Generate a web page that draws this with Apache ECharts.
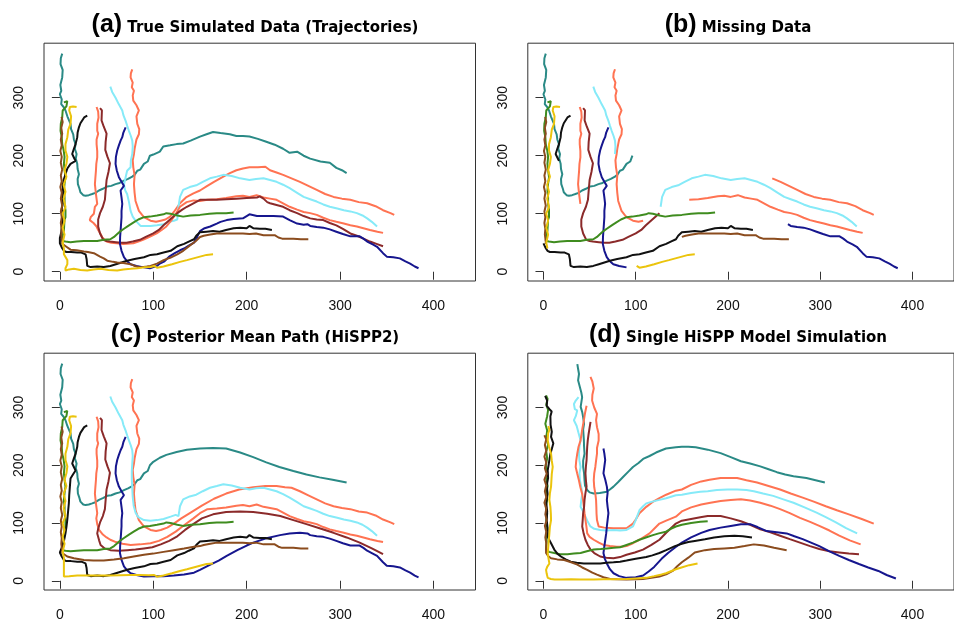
<!DOCTYPE html>
<html><head><meta charset="utf-8">
<script src="https://cdn.jsdelivr.net/npm/echarts@6/dist/echarts.min.js"></script>
<style>html,body{margin:0;padding:0;background:#fff}#c{width:954px;height:622px}</style>
</head><body><div id="c"></div>
<script>
// ---------- tick labels ----------
const xTicks = [0, 100, 200, 300, 400];
const yTicks = [0, 100, 200, 300];
const panelTitles = ['(a)', '(b)', '(c)', '(d)'];
const panelNames = ['True Simulated Data (Trajectories)', 'Missing Data', 'Posterior Mean Path (HiSPP2)', 'Single HiSPP Model Simulation'];

// ---------- true trajectories, split into observed (Obs) and missing (Miss) parts ----------
const tealObs1 = [[2.5,376],[1,368],[0.7,358],[3,348],[2.5,335],[0.5,322],[1.5,312],[0,306],[2,297],[1.4,289],[4,284],[6,278],[8,268],[11.4,255],[12,246],[14.3,237],[15,228],[16.8,220],[16,212],[17.9,203],[17,195],[18.6,186],[19,177],[20.4,168],[19,160],[19.3,151],[21,143],[22,137],[25,132],[27.5,131],[31,132],[34.6,134],[38,136],[41.8,140],[46,143],[50.7,147],[55,148],[59.6,151],[64,153],[68.6,157],[73,160],[77.5,164],[80,167],[82.9,174],[86,176],[90,186],[94,190],[96.4,200]];
const tealMiss1 = [[100,202],[107,207],[110.7,216],[118,218],[125,220],[132,221],[140,226],[150,233],[157,237],[164,241],[172,239],[182,237],[189,234],[196,234],[203,233],[212,229],[221,224],[230,219],[239,212],[246,205],[254,207],[261,200],[268,195],[279,190],[289,188],[296,179],[302,175],[307,170]];

const coral1Obs1 = [[77.5,349],[76,342],[75.7,335],[78,326],[77,318],[79.3,312],[78,304],[78.6,295],[82,287],[84.6,278],[82,268],[82.9,255],[85,246],[84.6,237],[82,228],[81,220],[80,212],[79.3,203],[78,192],[78.6,180],[80,166],[79.3,151],[80,136],[81,122],[84.6,105],[88,98],[90,94],[97,88],[103,86],[108,88]];
const coral1Miss1 = [[113,90],[118,95],[122,103],[128.6,118],[135,128],[143,135],[150,140],[157,147],[165,155],[175,164],[182,170],[189,175],[196,178],[203,180],[212,180],[220,181],[225,175],[232,171],[239,167]];
const coral1Obs2 = [[248,161],[257,155],[266,148],[275,141],[284,134],[293,129],[302,126],[311,124],[320,120],[329,118],[338,113],[346,106],[354,101],[358,98]];

const cyanObs1 = [[54,319],[56,310],[59.6,300],[63,289],[66.8,278],[68,270],[70.4,260],[72,252],[73.9,243],[76,234],[77.5,226],[78,216],[77.5,203]];
const cyanMiss1 = [[76,192],[75.7,180],[72,174],[70.4,163],[68.6,150],[70,140],[72,134],[74,120],[75.7,105],[78,95],[81,88],[86.4,79],[92,79],[97,79],[104,80],[111,82],[117,86],[122,88],[125.7,90]];
const cyanObs2 = [[127,112],[128.6,129],[132,141],[139,146],[146,149],[153,155],[160.7,161],[168,164],[175,167],[184,165],[193,161],[203,158],[210,160],[218,161],[225,158],[232,155],[239,150],[246,144],[254,136],[261,129],[268,125],[275,121],[282,116],[289,112],[297,109],[304,106],[311,104],[318,101],[324,97],[329,92],[334,86],[339.6,78]];

const coral2Obs1 = [[39.3,284],[41,276],[41.4,266],[40,255],[40,243],[41,238],[39.3,228],[39.3,220],[40,208],[40,197],[39,186],[38.6,174],[38,162],[37.5,151],[38.6,134],[40,117]];
const coral2Miss1 = [[37.5,112],[36.4,100],[33,94],[32,89],[36,84],[39.3,78],[41,72],[43.6,65],[45.4,59],[50,52],[55,50],[60.7,49],[68,48],[78.6,49],[84,52],[89,55],[96,60],[103.6,66],[109,72],[114,78],[120,90],[125,102],[128.6,112],[135.7,120],[143,123],[150,122]];
const coral2Obs2 = [[158,124],[168,125],[178,127],[189,130],[196,131],[203,129],[210.7,132],[218,128],[225,126],[232,124],[239,118],[246,112],[254,107],[261,103],[268,101],[275,98],[282,93],[289,89],[296,86],[304,83],[311,80],[318,78],[325,75],[332,72],[340,69],[346,67]];

const maroonObs1 = [[43,282],[45,278],[44.6,261],[47,250],[50,238],[49,224],[48.6,210],[51,198],[53.6,187],[52,172],[50,158],[49,140],[48.2,124],[46,112]];
const maroonObs2 = [[43,101],[41,90],[41,78],[43,66],[46.4,55],[50,53],[53.6,52],[60,51],[66,50],[71.4,50],[78,52],[85.7,55],[92,60],[100,66],[106,72],[111,80],[118,90],[125.7,101]];
const maroonMiss1 = [[131,107],[136,112],[143,118],[150,124],[160,124],[168,124],[178,125],[189,126],[200,127],[211,128],[214,130],[218,126],[222,120],[225,118],[232,115],[239,112],[246,106],[254,101],[261,96],[268,92],[275,90],[282,89],[289,84],[296,80],[303,74],[311,66],[318,62],[325,57],[332,52],[339,48],[346,44]];

const navyObs1 = [[70.4,249],[68,240],[66.8,232],[65,226],[63,217],[61.4,209],[60,198],[59.6,186],[61,174],[63.2,163],[66,155],[68.6,148],[65,140],[66,128],[66.8,117],[66,105],[66,94],[65.5,82],[65,71],[64.5,60],[64.3,48],[66,36],[68.6,25],[72,18],[75.7,13],[82,10],[90,7.5]];
const navyMiss1 = [[96.4,6],[104,10],[107,14],[112,18],[117,26],[123,32],[128.6,37],[133,40],[138,45],[143.6,50],[147,60],[150,70],[155,75],[161,78],[168,83],[172,86],[178.6,89],[186,91],[196,92],[200,96],[203,99],[211,96],[220,96],[228.6,96],[239,95],[246,89],[254,83],[261,81]];
const navyObs2 = [[265,82],[268,79],[275,77],[282,76],[289,73],[296,69],[303,65],[311,61],[321,61],[325,57],[329,52],[335,47],[339.6,43],[346,32],[350,26],[357,25],[364,23],[370,18],[375,14],[380,9],[384,6]];

const greenObs1 = [[4.3,292],[7.9,294],[10,292],[7,285],[3,278],[2.5,266],[1,255],[0.7,243],[2,232],[2.5,220],[4,210],[5,198],[4.3,186],[5,175],[6,163],[5,152],[4.3,140],[5,128],[5,117],[6,106],[6,94],[5,90],[4.3,71],[3,62],[2.5,53],[6,52],[11.4,51],[18,52],[25.7,53],[33,53],[40,53],[47,55],[54,56],[58,60],[61.4,65],[65,70],[68.6,74],[74,80],[79,85],[84,90],[90,94],[96.4,95],[104,97],[111,99],[114,101],[118.6,100],[125.7,97],[132,95],[140,97],[150,98],[160,100],[168,101],[178,101],[186,102]];

const blackObs1 = [[29.3,269],[26,266],[24,263],[22,256],[20.4,249],[19,240],[18.6,232],[16.8,220],[15,212],[13.2,203],[15,197],[16.8,191]];
const blackMiss1 = [[11.4,186],[8,178],[6,168],[4,158],[3,148],[3.5,138],[2.5,128],[3,118],[2,108],[3,98],[2.5,88],[2,78],[1.5,68],[0,58]];
const blackObs2 = [[0,49],[2,42],[4.3,36],[7,34],[12,34],[18.6,33],[23,33],[27.5,30],[28.6,22],[29.3,10],[33,8],[40,9],[47,8],[54,10],[60,13],[66,16],[72,19],[80,22],[90,25],[97,29],[104,30],[111,33],[118.6,36],[125.7,44],[133,48],[138,52],[143.6,56],[146,62],[150,68],[157,69],[164,70],[171,69],[178,72],[186,75],[193,76],[200,75],[203,79],[207,75],[214,74],[220,74],[227,72]];

const brownObs1 = [[1.8,267],[3,258],[1.5,248],[2.5,238],[1,228],[2,218],[0.5,208],[2,198],[1,188],[2.5,176],[1,166],[2,156],[0.5,146],[2,136],[1,126],[2.5,114],[1,104],[2,94],[1,84],[2,74],[1.5,64],[2.5,52],[2.5,48]];
const brownMiss1 = [[7,43],[11.4,38],[18,37],[25.7,35],[30,34],[36.4,32],[43,26],[47,23],[50.7,19],[57,17],[61.4,16],[68,15],[75.7,13],[80,10],[86.4,7.5],[93,9],[97,10],[104,14],[111,20],[118,24],[125.7,30],[132,36],[139,45],[145,52]];
const brownObs2 = [[150,60],[154,62],[161,64],[168,66],[177,66],[186,66],[196,66],[203,65],[210,66],[218,63],[225,63],[230,63],[234,59],[238,57],[250,57],[258,56],[266,56]];

const goldObs1 = [[17.9,284],[14,285],[10.7,284],[10,278],[12,268],[11.4,255],[9,245],[8,232],[6,220],[6,209],[8,198],[7,186],[5,175],[7,164],[4,150],[6,138],[4,126],[6,112],[3,100],[5,88],[3,76],[5,64],[3,50],[4.3,40]];
const goldMiss1 = [[4.3,30],[8,20],[8,13],[6,6],[6,2],[10,4],[15,5],[22,3],[29.3,2],[36,4],[43.6,5],[52,3],[61.4,2],[68,4],[75.7,5],[83,6],[90,7.5],[97,8]];
const goldObs2 = [[101,10],[104,7],[111,9],[120,13],[128.6,17],[136,20],[143,23],[150,26],[157,29],[164,30]];

// ---------- posterior mean path fills (panel c) ----------
const cTealFill = [[100,206],[107,213],[114,218],[125,223],[136,227],[150,229],[164,230],[178,229],[193,222],[207,214],[221,205],[235,197],[250,190],[264,184],[278,179],[292,175],[307,170]];
const cCoral1Fill = [[115,92],[122,99],[130,108],[140,118],[152,130],[165,142],[178,151],[192,158],[207,162],[220,164],[232,164],[241,162]];
const cCyanFill = [[77,190],[77,175],[77.5,160],[78,145],[79,130],[81,118],[84,110],[90,105],[97,104],[104,105],[111,107],[118.6,111],[124,114]];
const cCoral2Fill = [[39,108],[40,98],[42,88],[46,80],[50,75],[54,71],[60,67],[67,64],[75.7,62],[86,63],[97,65],[106,69],[115,76],[124,85],[133,96],[143,108],[150,117]];
const cMaroonFill = [[43,101],[41,90],[40,82],[42,70],[43.6,62],[48,56],[54,53],[63,52],[72,53],[81,54],[90,56],[99,58],[108,63],[117,69],[125.7,77],[134,88],[143.6,99],[152,108],[164,115],[178,119],[193,120],[207,119],[222,116],[236,112],[250,105],[264,98],[278,91],[293,83],[307,75],[321,66],[334,56],[346,46]];
const cNavyFill = [[100,8],[111,8],[122,9],[133,11],[143.6,14],[150,19],[160,27],[170,35],[178.6,43],[190,53],[200,61],[207,66],[220,73],[235.7,79],[246,82],[257,83]];
const cBlackFill = [[14,184],[11.4,177],[10.7,163],[10,148],[9.6,134],[8.8,120],[7.9,105],[7,93],[6,82],[4.5,70],[2.5,59]];
const cBrownFill = [[7.9,42],[15,39],[25.7,36],[36,35],[47,35],[58,37],[68.6,39],[79,42],[90,45],[100,47],[111,50],[122,53],[133,56],[143.6,59]];
const cGoldFill = [[4.3,25],[4.3,12],[4.3,7.5],[10,8],[18.6,9],[30,9],[43,9],[54,9],[65,9.5],[75,10],[85.7,10],[95,9.5]];

// ---------- single model simulation (panel d) ----------
const dTeal = [[36.7,375],[37.5,367],[38.5,358],[37.5,347],[39.5,335],[41,326],[41.9,318],[40.3,301],[42,292],[43,283],[44,272],[43,262],[43.8,243],[44,232],[44.5,220],[43,208],[43,197],[44,186],[44.5,174],[45,165],[47.4,157],[50,153],[54.5,151],[61,152],[68.7,154],[72,158],[75.9,163],[81,171],[86.5,180],[92,189],[97,197],[103,204],[108,211],[115,216],[122,222],[128,226],[132.8,229],[143.5,231],[150,232],[157,232],[165,231],[178,227],[185,224],[192,221],[203,214],[214,207],[224,203],[235,198],[244,193],[253,188],[262,184],[271,181],[285,178],[295,174],[305,170]];
const dCoral1 = [[50.9,353],[53,345],[54.5,333],[53,322],[52.7,312],[55,300],[58,289],[57,278],[58,266],[59.8,254],[59.8,243],[58,230],[58,220],[57,208],[56.2,197],[55,186],[54.5,174],[55,162],[56.2,151],[57,140],[57.3,128],[57.5,116],[58,105],[59.8,94],[66,92],[75.9,91],[83,91],[90,91],[97,99],[100,106],[104,117],[108,123],[111.4,128],[118,136],[125.7,143],[133,149],[143.5,156],[150,158],[160,166],[171,172],[180,175],[192,178],[200,178],[210,178],[220,174],[231.5,170],[244,164],[256.5,158],[268,151],[281,144],[293,137],[306,129],[318,122],[331,115],[345,107],[358,99]];
const dCyan = [[38,318],[35,312],[33,306],[34,297],[36.6,295],[35,285],[33,278],[36,268],[38,256],[40.2,243],[39,232],[38.4,220],[39,208],[40.2,197],[39,186],[39.5,174],[41,162],[42,151],[41,140],[40.2,128],[43,120],[45.5,111],[48,102],[50.9,94],[55,90],[61.5,88],[68,87],[75.9,88],[83,87],[90,88],[97,94],[100,105],[104,122],[108,129],[111.4,134],[118,137],[125.7,140],[133,143],[143.5,148],[150,149],[160,152],[170,154],[178,155],[188,157],[199.5,158],[210,158],[220,157],[228,155],[238,151],[249,147],[260,141],[271,135],[283,127],[296,118],[306,110],[317,101],[328,91],[340,82]];
const dCoral2 = [[46.7,303],[45,290],[43.8,278],[42,262],[40.2,243],[38,232],[36.6,220],[35.5,208],[34.9,197],[36.5,186],[38.4,174],[40,162],[42,150],[43,138],[43.8,128],[44.5,117],[45.5,105],[46.5,94],[47.4,82],[50,76],[54.5,71],[60,66],[65,62],[72,60],[79.4,59],[85,59],[90,60],[97,65],[104,71],[110,77],[115,82],[120,90],[125.7,99],[133,104],[143.5,111],[150,120],[160,127],[171,132],[181,135],[192,138],[203,140],[214,141],[224,139],[235,135],[246,130],[256.5,124],[267,117],[278,109],[289,102],[299,95],[310,87],[320.6,78],[332,70],[343.8,63]];
const dMaroon = [[51,275],[50,265],[49,255],[48,243],[47.4,232],[47,220],[46.7,209],[46,198],[45.5,186],[46,174],[46.7,163],[45.5,152],[44.5,140],[44,128],[43,117],[42.5,105],[42,94],[43.5,82],[45.5,71],[48,62],[51,54],[55,48],[61.5,42],[68,40],[75.9,39],[83,41],[90,45],[99,49],[107.9,54],[117,62],[125.7,71],[133,83],[143.5,99],[150,104],[160,107],[170,110],[178,112],[185,112],[192,112],[203,108],[214,103],[224,97],[235,89],[246,84],[256.5,78],[267,72],[278,66],[289,60],[299,55],[310,51],[320.6,49],[331,47],[342,46]];
const dNavy = [[65,229],[66,220],[66.9,209],[66,198],[65,186],[67,175],[68.7,163],[69.5,152],[68.7,140],[69.5,128],[70.4,117],[69.5,105],[68.7,94],[68,82],[67,71],[66,60],[65,48],[66.5,38],[68.7,30],[72,20],[75.9,13],[82,8],[90,5],[100,6],[108,9],[114,16],[120,24],[128,38],[135,48],[143,58],[150,66],[160,75],[171,83],[180,88],[192,92],[203,95],[214,98],[224,98],[232,93],[242,86],[253,84],[263.6,82],[272,77],[281,72],[290,66],[299,60],[310,51],[320.6,43],[331,36],[342,29],[352,23],[363,17],[372,10],[382,4]];
const dGreen = [[2.8,321],[4.5,315],[3,305],[5,296],[4,285],[2,272],[4,260],[3,248],[5,236],[3,224],[4,212],[2.5,200],[4,188],[3,176],[4.5,164],[3,152],[4,140],[2.5,128],[4,116],[3,104],[4,92],[3,80],[3.5,68],[2.8,58],[2.8,54],[6,50],[11.7,48],[18,46],[26,46],[33,47],[40.2,48],[47,51],[54.5,54],[62,55],[68.7,56],[76,57],[83,58],[90,62],[97,66],[104,71],[111,75],[118.6,79],[125,82],[132.8,85],[138,90],[143.5,94],[150,97],[160,100],[170,102],[178,103]];
const dBlack = [[1.8,320],[4,312],[3.5,303],[6.5,297],[8.9,293],[7.5,285],[7.7,270],[9,258],[8.2,249],[10.7,238],[9,228],[7.5,220],[6,205],[4.6,191],[5,178],[3.5,165],[4.5,150],[3,135],[4,120],[3.5,105],[4.5,90],[4.6,76],[8.2,65],[11.7,54],[15,47],[18.9,42],[24,37],[29.5,33],[36,31],[43.8,30],[52,30],[61.6,30],[68,31],[75.9,32],[83,33],[90,35],[100,38],[111.4,41],[118,44],[125.7,48],[133,53],[142.5,60],[150,64],[157,67],[164,69],[175,72],[185,75],[196,77],[207,78],[216,77],[226,75]];
const dBrown = [[1,252],[3,245],[1.5,235],[3,225],[1,215],[3,205],[1.5,195],[3.5,185],[1,175],[3,165],[1.5,155],[3,145],[1,135],[3,125],[2,115],[3.5,105],[1.5,95],[3,85],[2,75],[3,65],[2.8,55],[2.8,48],[5,43],[8.2,39],[15,37],[22.4,36],[30,32],[36.7,28],[42,23],[47.4,19],[53,14],[58,10.5],[65,6],[72.3,3],[80,2.5],[90,2],[100,2.5],[107.9,3],[117,5],[125.7,7.5],[133,11],[140,17],[145,25],[150,32],[157,40],[164,49],[175,53],[185,55],[196,56],[207,57],[218,60],[228,63],[234,62],[239,61],[250,57],[263.6,53]];
const dGold = [[5.3,268],[6.4,261],[5,255],[4.6,243],[6,232],[8.2,220],[9,208],[10,197],[9,185],[8.2,163],[7,152],[6.4,140],[7.5,128],[8,116],[8.2,105],[7,94],[6.4,82],[5.5,65],[4.6,48],[5.5,38],[6.4,30],[4,24],[2.8,19],[3.5,12],[4.6,5],[8,3],[12,2],[18.9,2],[30,2.5],[40,2],[54.5,2],[65,2.5],[75,2.5],[90,3],[100,4],[111.4,5],[120,8],[128,11],[132.8,13],[143.5,20],[149.6,23],[158,27],[167,30]];

// ---------- styling ----------
const COL = {
  teal: '#2A8A86', coral1: '#FF7352', cyan: '#86EAF8', coral2: '#FF7352', maroon: '#8B2A2A',
  navy: '#16168E', green: '#3F8C1F', black: '#111111', brown: '#8B4C1E', gold: '#EBC40C'
};

const cat = (...a) => [].concat(...a);
const panels = [
  [ // (a)
    ['teal', [cat(tealObs1, tealMiss1)]],
    ['coral1', [cat(coral1Obs1, coral1Miss1, coral1Obs2)]],
    ['cyan', [cat(cyanObs1, cyanMiss1, cyanObs2)]],
    ['coral2', [cat(coral2Obs1, coral2Miss1, coral2Obs2)]],
    ['maroon', [cat(maroonObs1, maroonObs2, maroonMiss1)]],
    ['navy', [cat(navyObs1, navyMiss1, navyObs2)]],
    ['green', [greenObs1]],
    ['black', [cat(blackObs1, blackMiss1, blackObs2)]],
    ['brown', [cat(brownObs1, brownMiss1, brownObs2)]],
    ['gold', [cat(goldObs1, goldMiss1, goldObs2)]]
  ],
  [ // (b)
    ['teal', [tealObs1]],
    ['coral1', [coral1Obs1, coral1Obs2]],
    ['cyan', [cyanObs1, cyanObs2]],
    ['coral2', [coral2Obs1, coral2Obs2]],
    ['maroon', [cat(maroonObs1, maroonObs2)]],
    ['navy', [navyObs1, navyObs2]],
    ['green', [greenObs1]],
    ['black', [blackObs1, blackObs2]],
    ['brown', [brownObs1, brownObs2]],
    ['gold', [goldObs1, goldObs2]]
  ],
  [ // (c)
    ['teal', [cat(tealObs1, cTealFill)]],
    ['coral1', [cat(coral1Obs1, cCoral1Fill, coral1Obs2)]],
    ['cyan', [cat(cyanObs1, cCyanFill, cyanObs2)]],
    ['coral2', [cat(coral2Obs1, cCoral2Fill, coral2Obs2)]],
    ['maroon', [cat(maroonObs1, cMaroonFill)]],
    ['navy', [cat(navyObs1, cNavyFill, navyObs2)]],
    ['green', [greenObs1]],
    ['black', [cat(blackObs1, cBlackFill, blackObs2)]],
    ['brown', [cat(brownObs1, cBrownFill, brownObs2)]],
    ['gold', [cat(goldObs1, cGoldFill, goldObs2)]]
  ],
  [ // (d)
    ['teal', [dTeal]], ['coral1', [dCoral1]], ['cyan', [dCyan]], ['coral2', [dCoral2]], ['maroon', [dMaroon]],
    ['navy', [dNavy]], ['green', [dGreen]], ['black', [dBlack]], ['brown', [dBrown]], ['gold', [dGold]]
  ]
];

const gridPos = [
  {left: 44, top: 43.2}, {left: 527.8, top: 43.2},
  {left: 44, top: 353.2}, {left: 527.8, top: 353.2}
];
const titleCx = [255, 738, 255, 738];
const titleTop = [13, 13, 323, 323];

const grids = [], xAxes = [], yAxes = [], series = [], titles = [];
gridPos.forEach((g, i) => {
  grids.push({left: g.left, top: g.top, width: 431.5, height: 237.8, show: true,
    borderColor: '#333', borderWidth: 1, backgroundColor: 'transparent', containLabel: false});
  xAxes.push({gridIndex: i, type: 'value', min: -17, max: 445,
    axisLine: {show: false},
    axisTick: {show: true, inside: false, length: 8, customValues: xTicks, lineStyle: {color: '#333', width: 1}},
    axisLabel: {customValues: xTicks, fontSize: 14, color: '#111', margin: 18, fontFamily: 'Liberation Sans'},
    splitLine: {show: false}});
  yAxes.push({gridIndex: i, type: 'value', min: -16, max: 394,
    axisLine: {show: false},
    axisTick: {show: true, inside: false, length: 8, customValues: yTicks, lineStyle: {color: '#333', width: 1}},
    axisLabel: {customValues: yTicks, rotate: 90, fontSize: 14, color: '#111', margin: 18, fontFamily: 'Liberation Sans'},
    splitLine: {show: false}});
  titles.push({
    text: '{p|' + panelTitles[i] + '}{t| ' + panelNames[i] + '}',
    left: titleCx[i], top: titleTop[i], textAlign: 'center', padding: 0,
    textStyle: {rich: {
      p: {fontFamily: 'Liberation Sans', fontWeight: 'bold', fontSize: 25, color: '#000', verticalAlign: 'bottom'},
      t: {fontFamily: 'DejaVu Sans', fontWeight: 'bold', fontSize: 15, color: '#000', verticalAlign: 'bottom', padding: [0, 0, 2, 0]}
    }}
  });
  panels[i].forEach(([key, segs]) => {
    segs.forEach(seg => {
      series.push({type: 'line', xAxisIndex: i, yAxisIndex: i, data: seg,
        showSymbol: false, symbol: 'none', silent: true, clip: true,
        lineStyle: {color: COL[key], width: 2}, itemStyle: {color: COL[key]}});
    });
  });
});

const chart = echarts.init(document.getElementById('c'), null, {renderer: 'canvas'});
chart.setOption({
  animation: false, backgroundColor: '#fff',
  title: titles, grid: grids, xAxis: xAxes, yAxis: yAxes, series: series
});
</script></body></html>
